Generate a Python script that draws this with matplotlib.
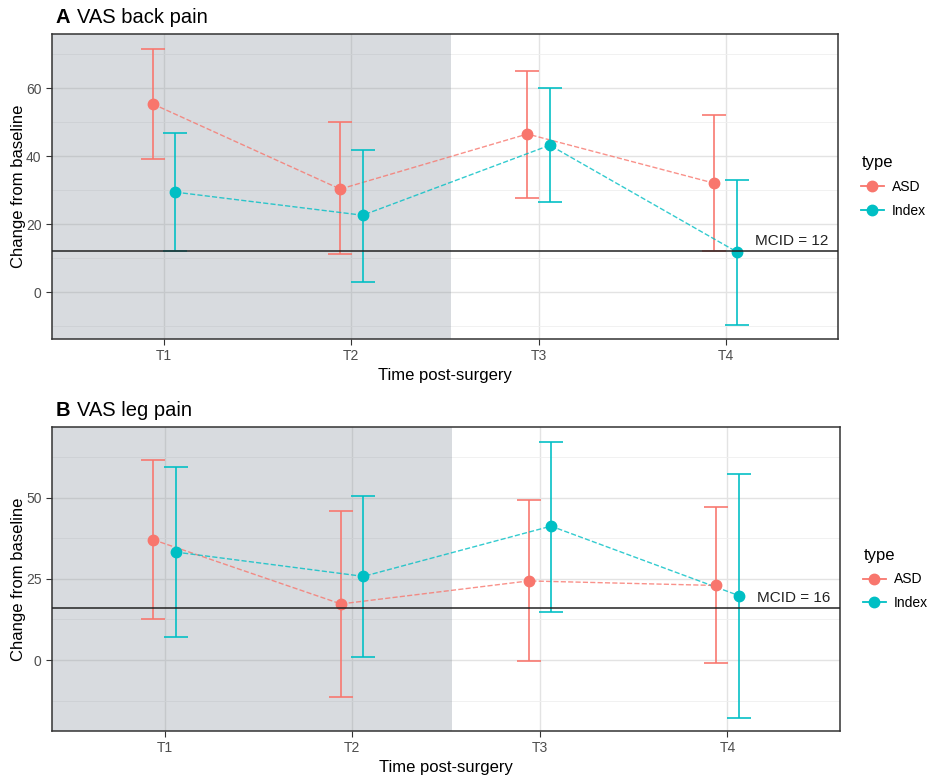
import matplotlib.pyplot as plt
from matplotlib.lines import Line2D

plt.rcParams['font.family'] = ['Liberation Sans', 'DejaVu Sans']

times = ['T1', 'T2', 'T3', 'T4']
groups = ['ASD', 'Index']

# panel A - VAS back pain
back_mean = {'ASD': [55.3, 30.3, 46.5, 32.0], 'Index': [29.4, 22.6, 43.2, 11.8]}
back_low = {'ASD': [39.1, 11.2, 27.6, 12.0], 'Index': [12.1, 2.9, 26.5, -9.7]}
back_high = {'ASD': [71.5, 50.0, 65.0, 52.0], 'Index': [46.8, 41.8, 60.0, 33.0]}
back_mcid = 12

# panel B - VAS leg pain
leg_mean = {'ASD': [37.1, 17.3, 24.4, 23.0], 'Index': [33.3, 25.8, 41.3, 19.9]}
leg_low = {'ASD': [12.8, -11.3, -0.3, -1.0], 'Index': [7.2, 1.0, 14.8, -17.9]}
leg_high = {'ASD': [61.8, 46.1, 49.3, 47.1], 'Index': [59.5, 50.5, 67.4, 57.4]}
leg_mcid = 16

colors = {'ASD': '#F8766D', 'Index': '#00BFC4'}
offsets = {'ASD': -0.06, 'Index': 0.06}


def draw_panel(ax, letter, title, mean, low, high, mcid, ylim, major, minor):
    ax.set_xlim(0.4, 4.6)
    ax.set_ylim(*ylim)
    ax.set_yticks(major)
    ax.set_yticks(minor, minor=True)
    ax.set_xticks([1, 2, 3, 4])
    ax.set_xticklabels(times)
    ax.grid(which='major', color='#e3e3e3', linewidth=1.0, zorder=0)
    ax.grid(which='minor', axis='y', color='#efefef', linewidth=0.6, zorder=0)
    ax.set_axisbelow(True)
    ax.axvspan(0.4, 2.53, color=(0.503, 0.543, 0.583), alpha=0.3, lw=0, zorder=1)

    for g in groups:
        xs = [i + 1 + offsets[g] for i in range(len(times))]
        ys = mean[g]
        yerr = [[m - l for m, l in zip(ys, low[g])], [h - m for m, h in zip(ys, high[g])]]
        ax.plot(xs, ys, linestyle='--', color=colors[g], alpha=0.8, lw=1.0, zorder=3)
        ax.errorbar(xs, ys, yerr=yerr, fmt='none', ecolor=colors[g], elinewidth=1.3,
                    capsize=8.6, capthick=1.3, alpha=0.9, zorder=3)
        ax.plot(xs, ys, 'o', color=colors[g], markersize=7.5, zorder=4)

    ax.axhline(mcid, color='#222222', lw=1.1, zorder=5)
    ax.text(4.55, mcid + 1, f'MCID = {mcid}', ha='right', va='bottom', fontsize=11,
            color='#222222', zorder=6)

    for s in ax.spines.values():
        s.set_color('#333333')
        s.set_linewidth(1.1)
    ax.tick_params(which='major', length=4, color='#333333', labelcolor='#4d4d4d', labelsize=10)
    ax.tick_params(which='minor', length=0)
    ax.set_xlabel('Time post-surgery', fontsize=12, labelpad=3)
    ax.set_ylabel('Change from baseline', fontsize=12, labelpad=0)

    ax.text(0.005, 1.022, letter, transform=ax.transAxes, fontsize=14.5, fontweight='bold',
            ha='left', va='bottom')
    ax.text(0.032, 1.022, title, transform=ax.transAxes, fontsize=14.5,
            ha='left', va='bottom')

    handles = [Line2D([0], [0], color=colors[g], marker='o', markersize=7.5, lw=1.3) for g in groups]
    leg = ax.legend(handles, groups, title='type', loc='center left',
                    bbox_to_anchor=(1.012, 0.5), frameon=False, fontsize=10,
                    title_fontsize=12, handlelength=1.6, handletextpad=0.6,
                    borderaxespad=0.6, labelspacing=0.7)
    leg._legend_box.align = 'left'


fig = plt.figure(figsize=(9.33, 7.77), dpi=100)
ax1 = fig.add_axes([0.0557, 0.5637, 0.8425, 0.3925])
ax2 = fig.add_axes([0.0557, 0.0592, 0.8446, 0.3913])

draw_panel(ax1, 'A', 'VAS back pain', back_mean, back_low, back_high, back_mcid,
           (-13.8, 75.9), [0, 20, 40, 60], [-10, 10, 30, 50, 70])
draw_panel(ax2, 'B', 'VAS leg pain', leg_mean, leg_low, leg_high, leg_mcid,
           (-21.9, 71.9), [0, 25, 50], [-12.5, 12.5, 37.5, 62.5])

fig.savefig('out.png', dpi=100)
